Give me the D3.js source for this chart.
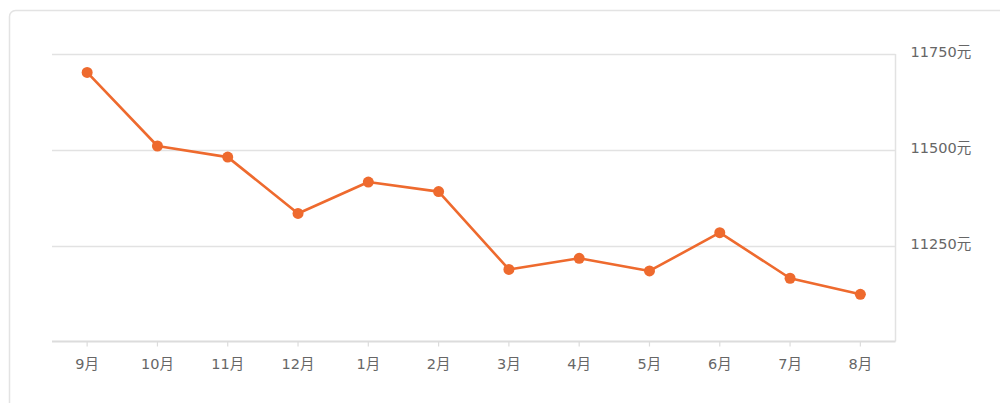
<!DOCTYPE html>
<html>
<head>
<meta charset="utf-8">
<script src="https://cdn.jsdelivr.net/npm/d3@7"></script>
<style>
  html, body { margin: 0; padding: 0; background: #fff; }
  svg { display: block; }
</style>
</head>
<body>
<svg id="chart" width="1000" height="403"></svg>
<script>
const months = ["9月","10月","11月","12月","1月","2月","3月","4月","5月","6月","7月","8月"];
const prices = [11702, 11510, 11481, 11334, 11416, 11391, 11188, 11217, 11184, 11284, 11165, 11123];
const yTicks = [11250, 11500, 11750];
const yDomain = [11000, 11750];
const unit = "元";

(function () {
const svg = d3.select("#chart");
const FONT = "'DejaVu Sans', 'Noto Sans CJK SC', sans-serif";
const lineColor = "#ee6a2e";

// card
svg.append("rect")
  .attr("x", 9.5).attr("y", 10.5)
  .attr("width", 1010).attr("height", 420)
  .attr("rx", 6).attr("ry", 6)
  .attr("fill", "#fff").attr("stroke", "#e3e3e3").attr("stroke-width", 1.5);

const mLeft = 52, mRight = 895.5, mTop = 54, mBottom = 341.5;

const x = d3.scaleBand().domain(months).range([mLeft, mRight]).padding(0);
const y = d3.scaleLinear().domain(yDomain).range([mBottom, mTop]);

// grid lines
svg.append("g").selectAll("line").data(yTicks).join("line")
  .attr("x1", mLeft).attr("x2", mRight)
  .attr("y1", d => Math.round(y(d)) + 0.5).attr("y2", d => Math.round(y(d)) + 0.5)
  .attr("stroke", "#e2e2e2").attr("stroke-width", 1.5);

// right axis line
svg.append("line")
  .attr("x1", mRight).attr("x2", mRight).attr("y1", mTop).attr("y2", mBottom)
  .attr("stroke", "#e2e2e2").attr("stroke-width", 1.5);

// y labels (right side)
const yAxis = d3.axisRight(y).tickValues(yTicks).tickSize(0).tickPadding(0)
  .tickFormat(d => d + unit);
const gy = svg.append("g").attr("transform", `translate(${mRight + 15},0)`).call(yAxis);
gy.select(".domain").remove();
gy.selectAll("text").attr("fill", "#666").attr("font-size", 14.5).attr("font-family", FONT)
  .attr("dy", "0.2em");

// x axis
const xAxis = d3.axisBottom(x).tickSize(5).tickPadding(12);
const gx = svg.append("g").attr("transform", `translate(0,${mBottom})`).call(xAxis);
gx.select(".domain").attr("stroke", "#dcdcdc").attr("stroke-width", 2)
  .attr("d", `M${mLeft},0H${mRight}`);
gx.selectAll(".tick line").attr("stroke", "#dcdcdc").attr("stroke-width", 1.2);
gx.selectAll("text").attr("fill", "#666").attr("font-size", 14.5).attr("font-family", FONT);

// line
const cx = d => x(d) + x.bandwidth() / 2;
const data = months.map((m, i) => ({ m, v: prices[i] }));
svg.append("path").datum(data)
  .attr("fill", "none").attr("stroke", lineColor).attr("stroke-width", 2.6)
  .attr("stroke-linejoin", "round")
  .attr("d", d3.line().x(d => cx(d.m)).y(d => y(d.v)));

svg.append("g").selectAll("circle").data(data).join("circle")
  .attr("cx", d => cx(d.m)).attr("cy", d => y(d.v)).attr("r", 5.5)
  .attr("fill", lineColor);
})();
</script>
</body>
</html>
